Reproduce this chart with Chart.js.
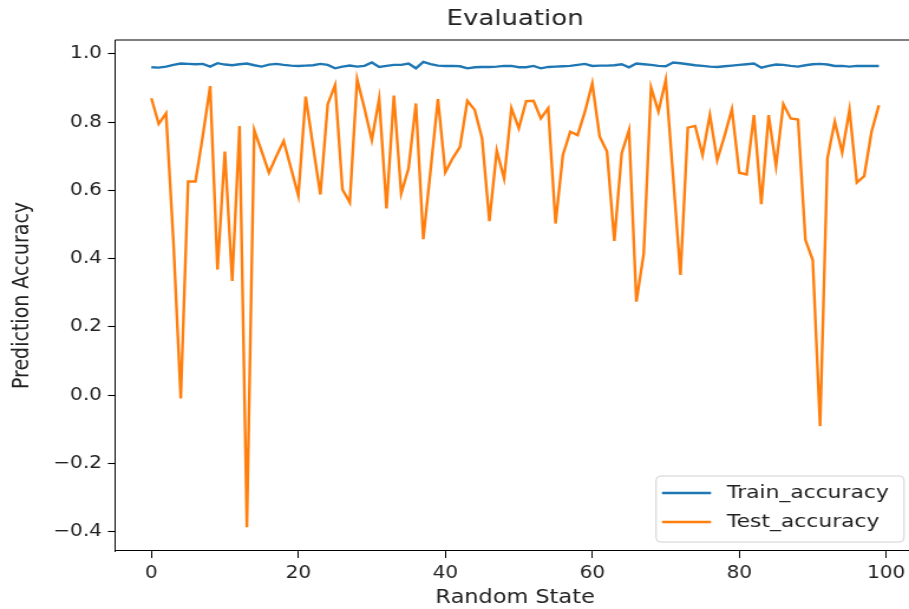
<!DOCTYPE html>
<html>
<head>
<meta charset="utf-8">
<title>Evaluation</title>
<script src="https://cdn.jsdelivr.net/npm/chart.js@4.4.1/dist/chart.umd.min.js"></script>
<style>
  html, body { margin: 0; padding: 0; background: #fff; overflow: hidden; }
  #wrap { width: 909px; height: 609px; overflow: hidden; }
  /* the reference figure is stretched sideways, so the canvas is too;
     its right spine falls just outside the picture */
  #evalChart { transform: scaleX(1.1805); transform-origin: 0 0; }
</style>
</head>
<body>
<div id="wrap"><canvas id="evalChart" width="781" height="609" style="width:781px;height:609px"></canvas></div>
<script>
// Data
const randomState = [
    0, 1, 2, 3, 4, 5, 6, 7, 8, 9, 10, 11, 12, 13, 14, 15, 16, 17, 18, 19,
    20, 21, 22, 23, 24, 25, 26, 27, 28, 29, 30, 31, 32, 33, 34, 35, 36, 37, 38, 39,
    40, 41, 42, 43, 44, 45, 46, 47, 48, 49, 50, 51, 52, 53, 54, 55, 56, 57, 58, 59,
    60, 61, 62, 63, 64, 65, 66, 67, 68, 69, 70, 71, 72, 73, 74, 75, 76, 77, 78, 79,
    80, 81, 82, 83, 84, 85, 86, 87, 88, 89, 90, 91, 92, 93, 94, 95, 96, 97, 98, 99
];

const trainAccuracy = [
    0.961, 0.960, 0.963, 0.968, 0.972, 0.971, 0.970, 0.971, 0.963, 0.973,
    0.969, 0.967, 0.970, 0.972, 0.967, 0.963, 0.969, 0.971, 0.968, 0.966,
    0.965, 0.966, 0.967, 0.971, 0.968, 0.958, 0.963, 0.966, 0.963, 0.965,
    0.975, 0.962, 0.965, 0.968, 0.968, 0.972, 0.958, 0.977, 0.970, 0.966,
    0.965, 0.965, 0.964, 0.958, 0.961, 0.962, 0.962, 0.963, 0.965, 0.965,
    0.961, 0.961, 0.965, 0.958, 0.962, 0.963, 0.964, 0.965, 0.968, 0.971,
    0.965, 0.966, 0.966, 0.967, 0.970, 0.961, 0.972, 0.970, 0.968, 0.965,
    0.964, 0.975, 0.973, 0.970, 0.967, 0.965, 0.963, 0.962, 0.964, 0.966,
    0.968, 0.970, 0.972, 0.960, 0.965, 0.969, 0.968, 0.965, 0.963, 0.967,
    0.970, 0.971, 0.969, 0.965, 0.965, 0.963, 0.965, 0.965, 0.965, 0.965
];

const testAccuracy = [
    0.870, 0.795, 0.826, 0.450, -0.010, 0.626, 0.626, 0.760, 0.906, 0.368,
    0.714, 0.335, 0.789, -0.387, 0.777, 0.715, 0.652, 0.700, 0.745, 0.665,
    0.585, 0.875, 0.730, 0.588, 0.853, 0.909, 0.603, 0.565, 0.926, 0.840,
    0.748, 0.869, 0.547, 0.878, 0.591, 0.665, 0.855, 0.457, 0.660, 0.868,
    0.653, 0.694, 0.728, 0.863, 0.836, 0.753, 0.510, 0.717, 0.635, 0.841,
    0.782, 0.862, 0.863, 0.811, 0.841, 0.503, 0.704, 0.772, 0.762, 0.831,
    0.914, 0.758, 0.714, 0.452, 0.709, 0.777, 0.274, 0.415, 0.902, 0.831,
    0.924, 0.640, 0.352, 0.784, 0.789, 0.704, 0.821, 0.689, 0.760, 0.838,
    0.652, 0.647, 0.821, 0.560, 0.821, 0.672, 0.853, 0.811, 0.808, 0.455,
    0.396, -0.091, 0.694, 0.802, 0.711, 0.836, 0.623, 0.642, 0.772, 0.850
];

const xTickValues = [0, 20, 40, 60, 80, 100];
const yTickValues = [-0.4, -0.2, 0.0, 0.2, 0.4, 0.6, 0.8, 1.0];

const FONT = "'DejaVu Sans', 'Liberation Sans', sans-serif";
const TEXT_COLOR = '#222';

function toPoints(values) {
    return randomState.map((x, i) => ({ x: x, y: values[i] }));
}

function formatTick(v) {
    const s = Math.abs(v).toFixed(1);
    return v < -1e-9 ? '\u2212' + s : s;
}

// Top/right spines + title + legend drawn on top, matplotlib style
const axesDecor = {
    id: 'axesDecor',
    afterDatasetsDraw(chart) {
        const { ctx, chartArea } = chart;
        ctx.save();
        ctx.strokeStyle = '#000';
        ctx.lineWidth = 1.1;
        ctx.beginPath();
        ctx.moveTo(chartArea.left, chartArea.top);
        ctx.lineTo(chartArea.right, chartArea.top);
        ctx.lineTo(chartArea.right, chartArea.bottom);
        ctx.stroke();

        // title, centred on the axes
        ctx.fillStyle = TEXT_COLOR;
        ctx.font = '22px ' + FONT;
        ctx.textAlign = 'center';
        ctx.textBaseline = 'middle';
        ctx.fillText('Evaluation', (chartArea.left + chartArea.right) / 2, 19);

        // legend, lower right
        const boxW = 210, boxH = 66;
        const bx = chartArea.right - boxW - 9.5;
        const by = chartArea.bottom - boxH - 9;
        ctx.beginPath();
        ctx.roundRect(bx, by, boxW, boxH, 4);
        ctx.fillStyle = 'rgba(255,255,255,0.8)';
        ctx.fill();
        ctx.strokeStyle = '#d0d0d0';
        ctx.lineWidth = 1;
        ctx.stroke();

        ctx.font = '18.5px ' + FONT;
        ctx.textAlign = 'left';
        chart.data.datasets.forEach((ds, i) => {
            const y = by + 17 + i * 29;
            ctx.strokeStyle = ds.borderColor;
            ctx.lineWidth = 2.5;
            ctx.beginPath();
            ctx.moveTo(bx + 5, y);
            ctx.lineTo(bx + 46.5, y);
            ctx.stroke();
            ctx.fillStyle = TEXT_COLOR;
            ctx.fillText(ds.label, bx + 60, y);
        });
        ctx.restore();
    }
};

const ctx = document.getElementById('evalChart').getContext('2d');
const evalChart = new Chart(ctx, {
    type: 'line',
    data: {
        datasets: [
            {
                label: 'Train_accuracy',
                data: toPoints(trainAccuracy),
                borderColor: '#1f77b4',
                borderWidth: 2.4,
                pointRadius: 0,
                tension: 0,
                fill: false
            },
            {
                label: 'Test_accuracy',
                data: toPoints(testAccuracy),
                borderColor: '#ff7f0e',
                borderWidth: 2.4,
                pointRadius: 0,
                tension: 0,
                fill: false
            }
        ]
    },
    options: {
        responsive: false,
        animation: false,
        devicePixelRatio: 1,
        layout: { padding: { left: 0, right: 5.7, top: 40, bottom: 0 } },
        plugins: {
            legend: { display: false },
            title: { display: false },
            tooltip: { enabled: false }
        },
        scales: {
            x: {
                type: 'linear',
                min: -4.95,
                max: 103.95,
                afterFit: (scale) => { scale.height = 58; },
                afterBuildTicks: (scale) => {
                    scale.ticks = xTickValues.map(v => ({ value: v }));
                },
                grid: {
                    drawOnChartArea: false,
                    drawTicks: true,
                    tickLength: 7,
                    tickColor: '#000',
                    tickWidth: 1
                },
                border: { display: true, color: '#000', width: 1.1 },
                ticks: {
                    color: TEXT_COLOR,
                    font: { family: FONT, size: 17 },
                    padding: 5,
                    maxRotation: 0,
                    autoSkip: false,
                    callback: (v) => String(v)
                },
                title: {
                    display: true,
                    text: 'Random State',
                    color: TEXT_COLOR,
                    font: { family: FONT, size: 19 },
                    padding: { top: 0, bottom: 0 }
                }
            },
            y: {
                type: 'linear',
                min: -0.457,
                max: 1.041,
                afterFit: (scale) => { scale.width = 97.4; },
                afterBuildTicks: (scale) => {
                    scale.ticks = yTickValues.map(v => ({ value: v }));
                },
                grid: {
                    drawOnChartArea: false,
                    drawTicks: true,
                    tickLength: 6,
                    tickColor: '#000',
                    tickWidth: 1.1
                },
                border: { display: true, color: '#000', width: 1 },
                ticks: {
                    color: TEXT_COLOR,
                    font: { family: FONT, size: 17 },
                    padding: 5,
                    autoSkip: false,
                    callback: (v) => formatTick(v)
                },
                title: {
                    display: true,
                    text: 'Prediction Accuracy',
                    color: TEXT_COLOR,
                    font: { family: FONT, size: 19 },
                    padding: { top: 8, bottom: 0 }
                }
            }
        }
    },
    plugins: [axesDecor]
});
</script>
</body>
</html>
